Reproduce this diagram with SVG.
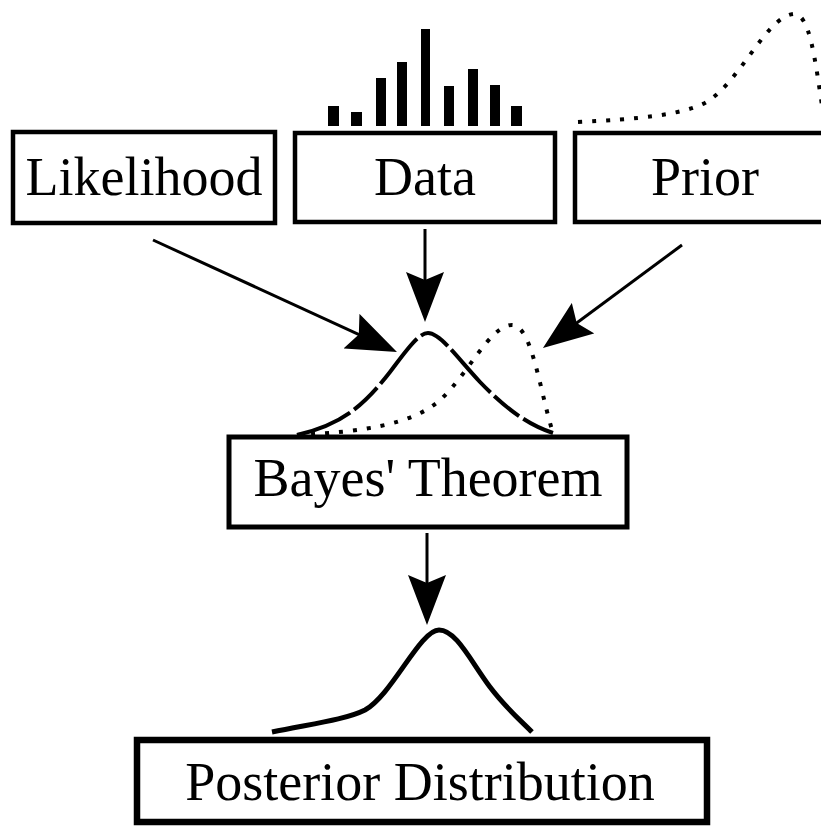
<svg xmlns="http://www.w3.org/2000/svg" width="821" height="826" viewBox="0 0 821 826">
<defs>
<style>
.box{fill:#fff;stroke:#000;stroke-width:4.5}
.lbl{font-family:"Liberation Serif","Times New Roman",serif;font-size:54px;fill:#000;text-anchor:middle}
.conn{stroke:#000;stroke-width:3;fill:none}
.dot{fill:none;stroke:#000;stroke-width:4;stroke-dasharray:4 10}
.dash{fill:none;stroke:#000;stroke-width:4;stroke-dasharray:58 5 32 5}
.solid{fill:none;stroke:#000;stroke-width:5}
.bar{fill:#000}
</style>
<marker id="ah" markerUnits="userSpaceOnUse" viewBox="0 0 50 38" markerWidth="50" markerHeight="38" refX="40" refY="19" orient="auto">
<path d="M0,0 L50,19 L0,38 L8,19 Z" fill="#000"/>
</marker>
</defs>
<rect width="821" height="826" fill="#fff"/>

<g id="data-bars">
<rect class="bar" x="328" y="106" width="11" height="20"/>
<rect class="bar" x="351" y="112" width="11" height="14"/>
<rect class="bar" x="376" y="78" width="10" height="48"/>
<rect class="bar" x="397" y="62" width="10" height="64"/>
<rect class="bar" x="421" y="29" width="9" height="97"/>
<rect class="bar" x="444" y="86" width="10" height="40"/>
<rect class="bar" x="468" y="69" width="10" height="57"/>
<rect class="bar" x="490" y="85" width="10" height="41"/>
<rect class="bar" x="511" y="106" width="11" height="20"/>
</g>

<g id="prior-curve">
<path class="dot" d="M578,122 C640,119 680,115 705,103 C740,83 765,18 793,14 C810,12 815,60 823,112"/>
</g>

<g id="likelihood">
<rect class="box" x="13" y="132" width="262" height="91"/>
<text class="lbl" x="144" y="195">Likelihood</text>
</g>
<g id="data">
<rect class="box" x="295" y="133" width="260" height="89"/>
<text class="lbl" x="425" y="195">Data</text>
</g>
<g id="prior">
<rect class="box" x="575" y="133" width="270" height="89"/>
<text class="lbl" x="705" y="195">Prior</text>
</g>

<g id="connectors">
<line class="conn" x1="153" y1="240" x2="387.9" y2="347.8" marker-end="url(#ah)"/>
<line class="conn" x1="425" y1="229" x2="425" y2="312" marker-end="url(#ah)"/>
<line class="conn" x1="682" y1="245" x2="551" y2="342" marker-end="url(#ah)"/>
<line class="conn" x1="427" y1="533" x2="427" y2="615" marker-end="url(#ah)"/>
</g>

<g id="middle-curves">
<path class="dot" d="M297,435 C360,432 412,425 440,400 C468,375 490,325 512,325 C532,325 540,392 553,433"/>
<path class="dash" d="M297,435 C340,425 362,408 390,372 C405,352 418,333 428,333 C440,333 455,355 480,382 C505,408 528,425 553,433"/>
</g>

<g id="bayes">
<rect class="box" x="229" y="437" width="398" height="90" style="stroke-width:5"/>
<text class="lbl" x="428" y="496">Bayes' Theorem</text>
</g>

<g id="posterior-curve">
<path class="solid" d="M272,732 C310,724 345,720 365,710 C392,695 420,630 439,630 C456,630 470,660 490,687 C505,707 520,720 532,732"/>
</g>

<g id="posterior">
<rect class="box" x="137" y="740" width="570" height="82" style="stroke-width:6.5"/>
<text class="lbl" x="420" y="800">Posterior Distribution</text>
</g>
</svg>
